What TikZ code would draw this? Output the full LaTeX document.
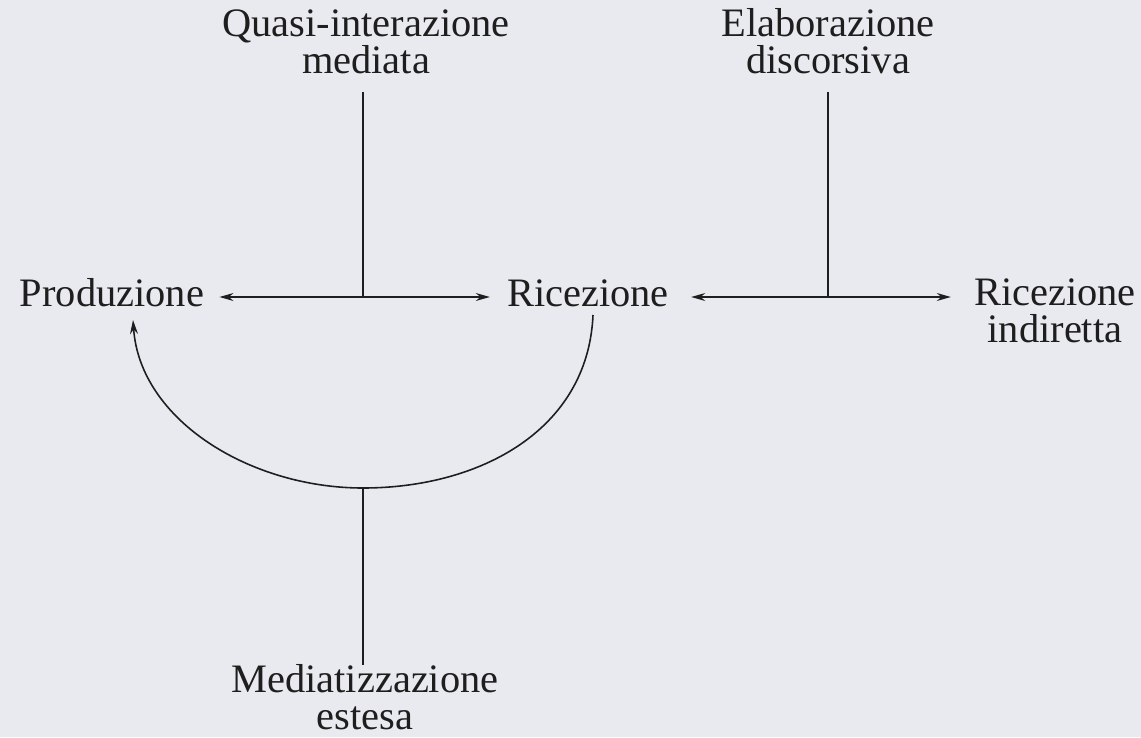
\documentclass[tikz,border=0pt]{standalone}
\usepackage{fontspec}
\setmainfont{Liberation Serif}
\usepackage{tikz}
\usetikzlibrary{arrows.meta, positioning}
\definecolor{paper}{RGB}{233,234,239}
\definecolor{ink}{RGB}{30,30,30}
\tikzset{
  label text/.style={align=center, inner sep=0pt, text=ink, anchor=base,
    font=\fontsize{23}{20.5}\selectfont},
  link/.style={draw=ink, line width=0.9pt},
  twoway/.style={link, {Stealth[length=8pt,width=4.5pt]}-{Stealth[length=8pt,width=4.5pt]}},
  oneway/.style={link, -{Stealth[length=8pt,width=4.5pt]}},
}

\begin{document}
\begin{tikzpicture}[x=0.02cm, y=-0.02cm]
  % Background
  \fill[paper] (0,0) rectangle (1141,737);
  \useasboundingbox (0,0) rectangle (1141,737);

  % Labels (base = last line)
  \node[label text] (qim) at (366,73) {Quasi-interazione\\mediata};
  \node[label text] (edisc) at (828,73) {Elaborazione\\discorsiva};
  \node[label text] (prod) at (112,306) {Produzione};
  \node[label text] (ric) at (588,306) {Ricezione};
  \node[label text] (rind) at (1055,342) {Ricezione\\indiretta};
  \node[label text] (mest) at (365,729) {Mediatizzazione\\estesa};

  % Junctions
  \coordinate (j1) at (363,297);
  \coordinate (j2) at (828,297);
  \coordinate (top1) at (363,92);
  \coordinate (top2) at (828,92);
  \coordinate (arcR) at (593,315);
  \coordinate (arcB) at (363,488);
  \coordinate (arcL) at (133,320);

  % Left axis
  \draw[twoway, shorten <=0.3cm, shorten >=0.34cm] (prod.east |- j1) -- (ric.west |- j1);
  \draw[link] (top1) -- (j1);

  % Right axis
  \draw[twoway, shorten <=0.44cm, shorten >=0.46cm] (ric.east |- j2) -- (rind.west |- j2);
  \draw[link] (top2) -- (j2);

  % Curve back
  \draw[oneway] (arcR) .. controls (588,430) and (480,488) .. (arcB)
    .. controls (250,488) and (140,420) .. (arcL);
  \draw[link] (arcB) -- (arcB |- mest.north);
\end{tikzpicture}
\end{document}
